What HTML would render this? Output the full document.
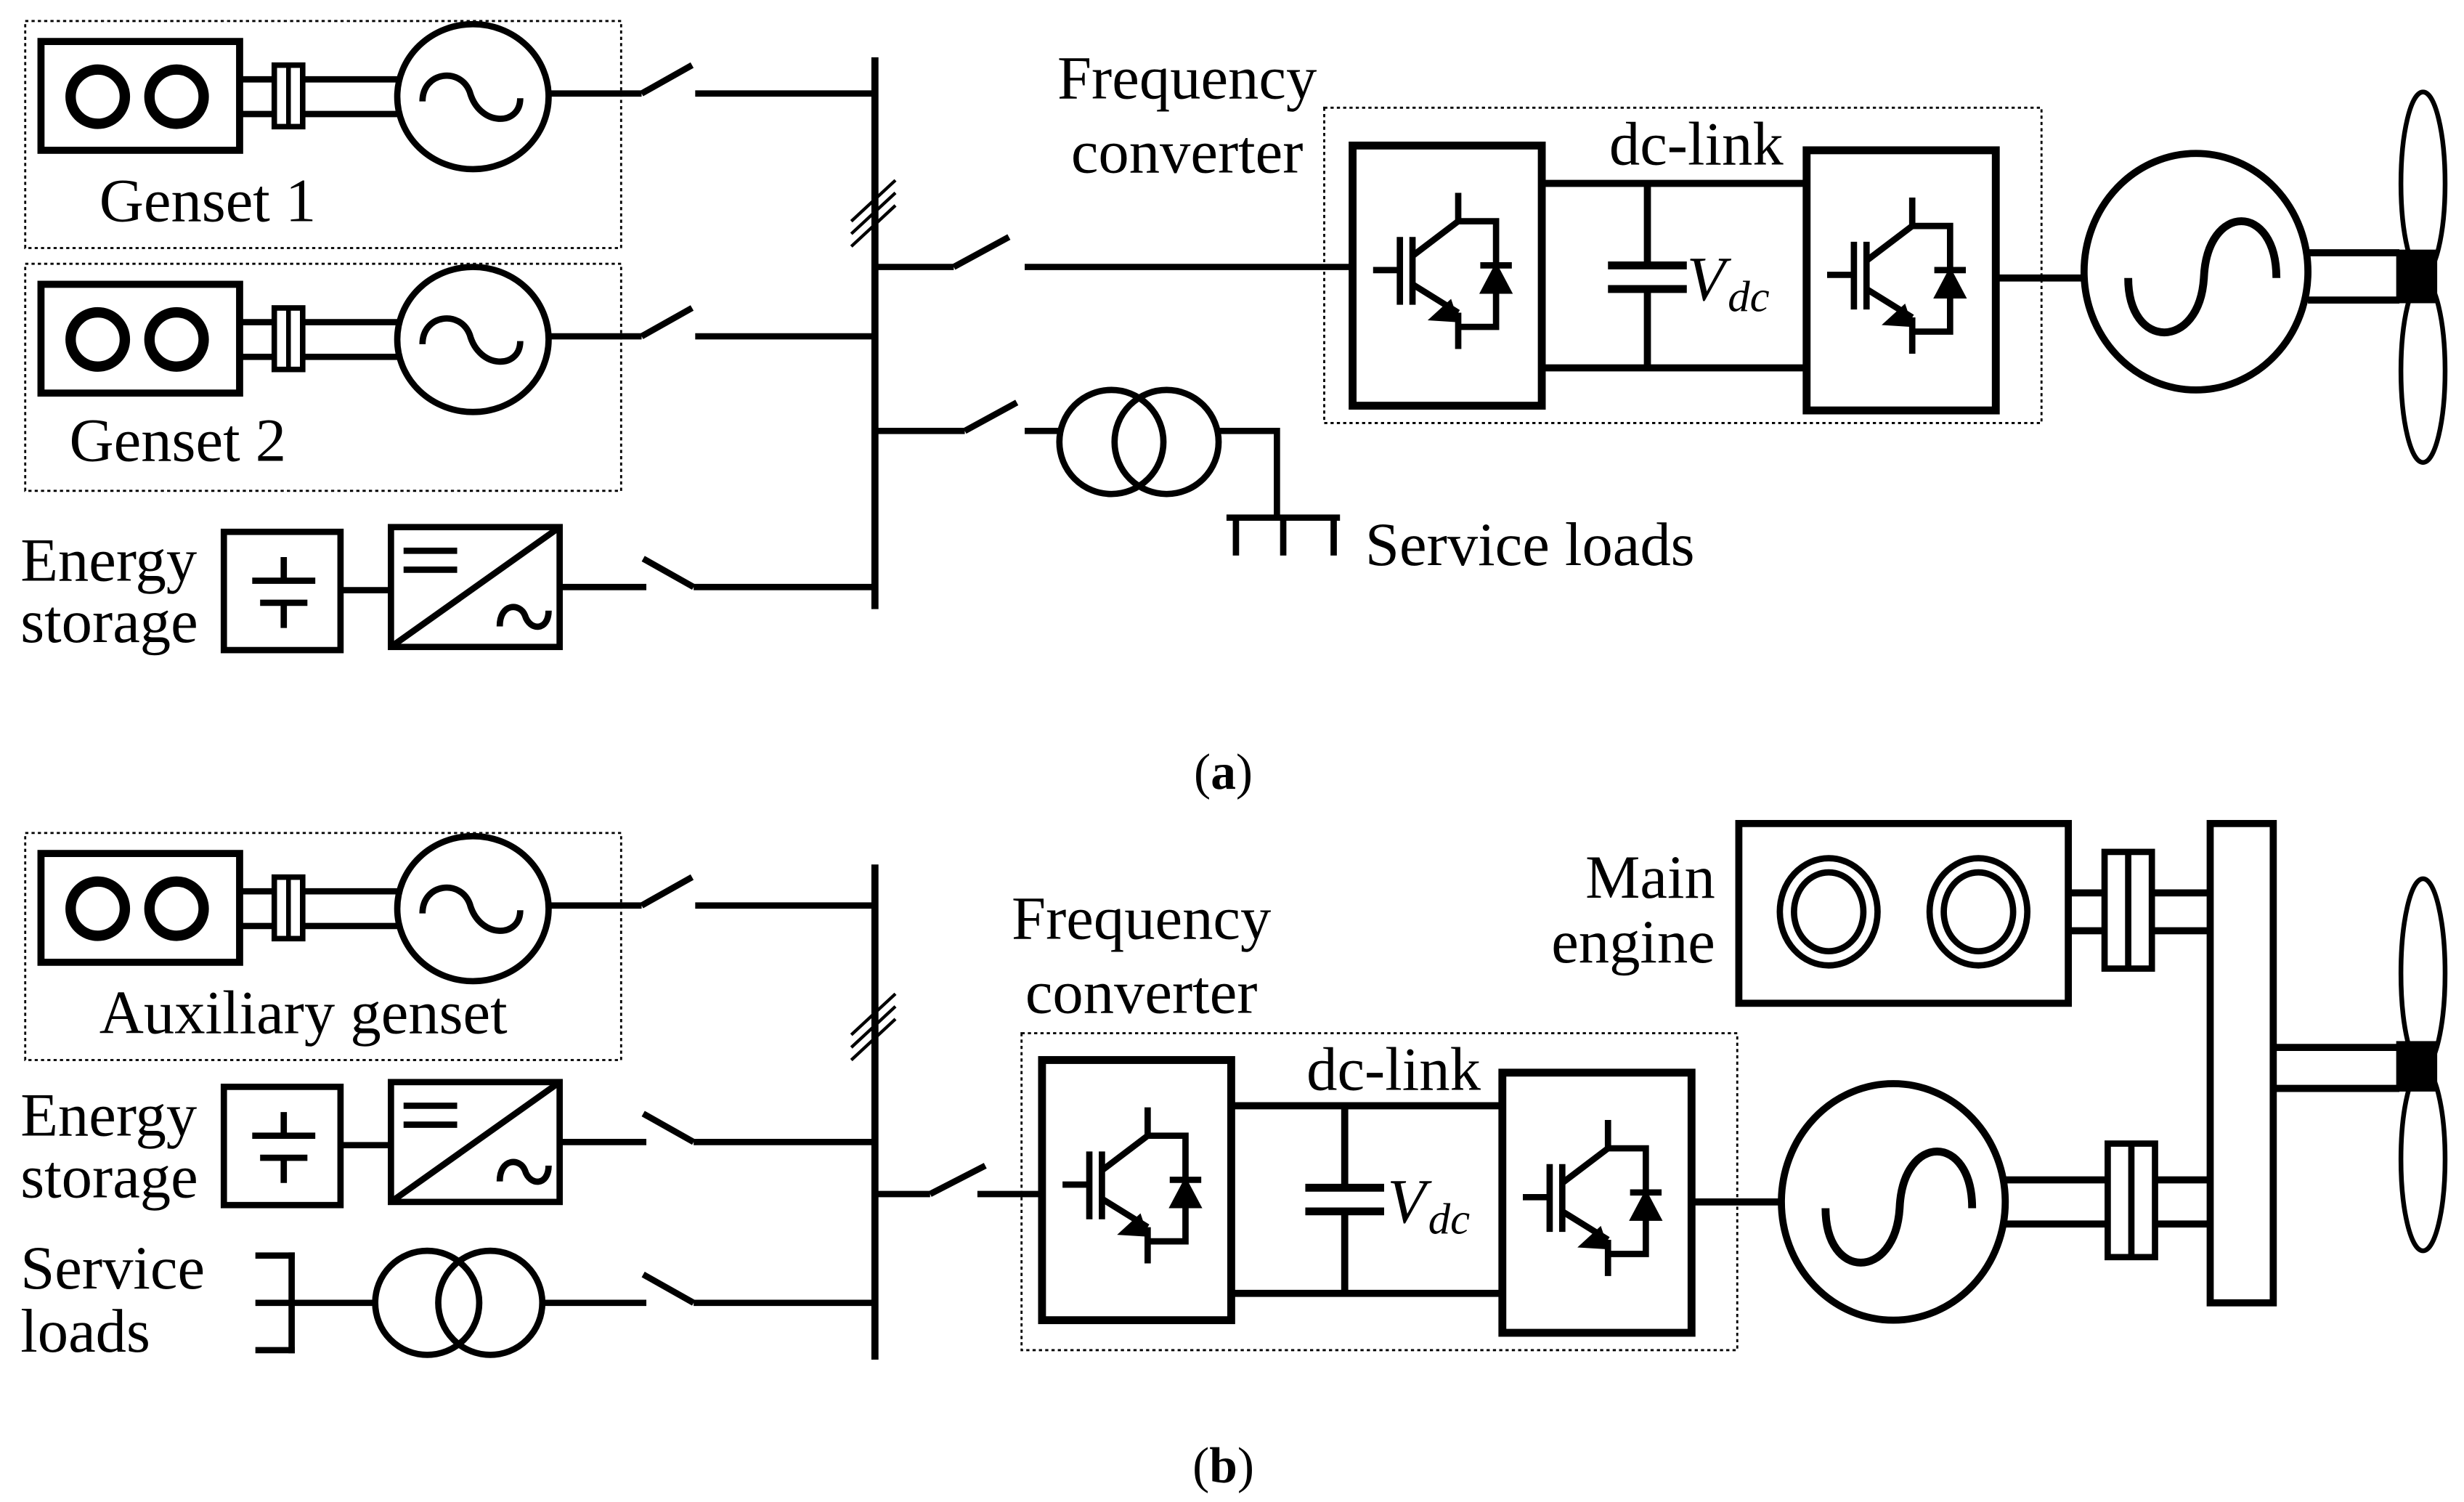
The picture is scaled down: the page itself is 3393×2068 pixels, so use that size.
<!DOCTYPE html>
<html><head><meta charset="utf-8"><style>
html,body{margin:0;padding:0;background:#fff;}
svg{display:block;}
text{font-family:"Liberation Serif","Times New Roman",serif;fill:#000;}
</style></head><body>
<svg width="3393" height="2068" viewBox="0 0 1563 952" xmlns="http://www.w3.org/2000/svg">
<defs>
<g id="igbt" fill="none" stroke="#000" stroke-width="4">
 <line x1="13" y1="79" x2="30" y2="79"/>
 <line x1="30" y1="58" x2="30" y2="101"/>
 <line x1="38" y1="58" x2="38" y2="101"/>
 <line x1="38" y1="70" x2="67" y2="48"/>
 <line x1="67" y1="30" x2="67" y2="48"/>
 <polyline points="67,48 91,48 91,115 67,115"/>
 <line x1="38" y1="88" x2="67" y2="106"/>
 <line x1="67" y1="106" x2="67" y2="129"/>
 <polygon points="62,99 50,110 66,111" fill="#000" stroke-width="2"/>
 <polygon points="82,93 100,93 91,76" fill="#000" stroke-width="2"/>
 <line x1="81" y1="76" x2="101" y2="76"/>
</g>
<g id="engine" fill="none" stroke="#000">
 <rect x="26" y="26" width="126" height="69" stroke-width="4.5"/>
 <circle cx="62" cy="61" r="17" stroke-width="7"/>
 <circle cx="62" cy="61" r="13.5" stroke="#fff" stroke-width="0.8"/>
 <circle cx="112" cy="61" r="17" stroke-width="7"/>
 <circle cx="112" cy="61" r="13.5" stroke="#fff" stroke-width="0.8"/>
 <line x1="152" y1="50" x2="174" y2="50" stroke-width="4"/>
 <line x1="152" y1="72" x2="174" y2="72" stroke-width="4"/>
 <rect x="174" y="41" width="18" height="39" stroke-width="3.5"/>
 <line x1="183" y1="41" x2="183" y2="80" stroke-width="3"/>
 <line x1="192" y1="50" x2="253" y2="50" stroke-width="4"/>
 <line x1="192" y1="72" x2="253" y2="72" stroke-width="4"/>
 <ellipse cx="300" cy="61" rx="48" ry="46" stroke-width="4"/>
 <path d="M268 64 C268 45 292 42 298 58 C304 80 330 80 330 62" stroke-width="4"/>
 <line x1="348" y1="59" x2="407" y2="59" stroke-width="4"/>
 <line x1="407" y1="59" x2="439" y2="41" stroke-width="4"/>
</g>
<g id="es" fill="none" stroke="#000" stroke-width="4">
 <rect x="142" y="337" width="74" height="75"/>
 <line x1="160" y1="368" x2="200" y2="368"/>
 <line x1="165" y1="382" x2="195" y2="382"/>
 <line x1="180" y1="353" x2="180" y2="368"/>
 <line x1="180" y1="382" x2="180" y2="398"/>
 <line x1="216" y1="374" x2="248" y2="374"/>
 <rect x="248" y="334" width="107" height="76"/>
 <line x1="248" y1="410" x2="355" y2="334"/>
 <line x1="256" y1="349" x2="290" y2="349"/>
 <line x1="256" y1="361" x2="290" y2="361"/>
 <path d="M317 397 C317 382 330 382 333 390 C336 400 348 400 348 387"/>
</g>
<g id="conv" fill="none" stroke="#000">
 <rect x="0" y="0" width="120" height="165" stroke-width="5"/>
 <use href="#igbt"/>
</g>
</defs>

<!-- ===== Panel (a) ===== -->
<g fill="none" stroke="#000" stroke-dasharray="2,2" stroke-width="1.3">
 <rect x="16" y="13" width="378" height="144"/>
 <rect x="16" y="167" width="378" height="144"/>
 <rect x="840" y="68" width="455" height="200"/>
</g>
<use href="#engine"/>
<use href="#engine" transform="translate(0,154)"/>
<g stroke="#000" stroke-width="4" fill="none">
 <line x1="441" y1="59" x2="555" y2="59"/>
 <line x1="441" y1="213" x2="555" y2="213"/>
 <line x1="555" y1="36" x2="555" y2="386" stroke-width="4.5"/>
 <line x1="540" y1="140" x2="568" y2="114" stroke-width="2"/>
 <line x1="540" y1="148" x2="568" y2="122" stroke-width="2"/>
 <line x1="540" y1="156" x2="568" y2="130" stroke-width="2"/>
</g>
<text x="63" y="140" font-size="39">Genset 1</text>
<text x="44" y="292" font-size="39">Genset 2</text>
<use href="#es"/>
<g stroke="#000" stroke-width="4" fill="none">
 <line x1="355" y1="372" x2="410" y2="372"/>
 <line x1="408" y1="354" x2="440" y2="372"/>
 <line x1="440" y1="372" x2="555" y2="372"/>
 <line x1="555" y1="169" x2="605" y2="169"/>
 <line x1="605" y1="169" x2="640" y2="150"/>
 <line x1="650" y1="169" x2="858" y2="169"/>
 <line x1="555" y1="273" x2="612" y2="273"/>
 <line x1="612" y1="273" x2="645" y2="255"/>
 <line x1="650" y1="273" x2="672" y2="273"/>
 <circle cx="705" cy="280" r="33"/>
 <circle cx="740" cy="280" r="33"/>
 <polyline points="773,273 810,273 810,328"/>
 <line x1="778" y1="328" x2="850" y2="328"/>
 <line x1="784" y1="328" x2="784" y2="352"/>
 <line x1="814" y1="328" x2="814" y2="352"/>
 <line x1="846" y1="328" x2="846" y2="352"/>
</g>
<text x="13" y="368" font-size="39">Energy</text>
<text x="13" y="407" font-size="39">storage</text>
<text x="866" y="358" font-size="39">Service loads</text>
<text x="753" y="62" font-size="39" text-anchor="middle">Frequency</text>
<text x="753" y="109" font-size="39" text-anchor="middle">converter</text>
<text x="1076" y="104" font-size="39" text-anchor="middle">dc-link</text>
<use href="#conv" transform="translate(858,92)"/>
<use href="#conv" transform="translate(1146,95)"/>
<g stroke="#000" stroke-width="4.5" fill="none">
 <line x1="978" y1="116" x2="1146" y2="116"/>
 <line x1="978" y1="233" x2="1146" y2="233"/>
 <line x1="1045" y1="116" x2="1045" y2="168"/>
 <line x1="1045" y1="183" x2="1045" y2="233"/>
 <line x1="1020" y1="168" x2="1070" y2="168" stroke-width="5"/>
 <line x1="1020" y1="183" x2="1070" y2="183" stroke-width="5"/>
 <line x1="1266" y1="176" x2="1322" y2="176"/>
 <ellipse cx="1393" cy="172" rx="71" ry="75"/>
 <path d="M1350 176 C1350 222 1395 222 1398 176 C1400 128 1444 128 1444 176" stroke-width="5"/>
 <line x1="1464" y1="160" x2="1522" y2="160"/>
 <line x1="1464" y1="190" x2="1522" y2="190"/>
 <ellipse cx="1537" cy="116" rx="14" ry="58" stroke-width="3"/>
 <ellipse cx="1537" cy="235" rx="14" ry="58" stroke-width="3"/>
</g>
<rect x="1520" y="158" width="26" height="34" fill="#000"/>
<text x="1070" y="190" font-size="40" font-style="italic">V</text>
<text x="1096" y="197" font-size="28" font-style="italic">dc</text>
<text x="776" y="500" font-size="32" text-anchor="middle">(<tspan font-weight="bold">a</tspan>)</text>

<!-- ===== Panel (b) ===== -->
<g fill="none" stroke="#000" stroke-dasharray="2,2" stroke-width="1.3">
 <rect x="16" y="528" width="378" height="144"/>
 <rect x="648" y="655" width="454" height="201"/>
</g>
<use href="#engine" transform="translate(0,515)"/>
<text x="63" y="655" font-size="39">Auxiliary genset</text>
<use href="#es" transform="translate(0,352)"/>
<text x="13" y="720" font-size="39">Energy</text>
<text x="13" y="759" font-size="39">storage</text>
<text x="13" y="817" font-size="39">Service</text>
<text x="13" y="857" font-size="39">loads</text>
<g stroke="#000" stroke-width="4" fill="none">
 <line x1="441" y1="574" x2="555" y2="574"/>
 <line x1="555" y1="548" x2="555" y2="862" stroke-width="4.5"/>
 <line x1="540" y1="656" x2="568" y2="630" stroke-width="2"/>
 <line x1="540" y1="664" x2="568" y2="638" stroke-width="2"/>
 <line x1="540" y1="672" x2="568" y2="646" stroke-width="2"/>
 <line x1="355" y1="724" x2="410" y2="724"/>
 <line x1="408" y1="706" x2="440" y2="724"/>
 <line x1="440" y1="724" x2="555" y2="724"/>
 <line x1="162" y1="796" x2="187" y2="796"/>
 <line x1="162" y1="826" x2="187" y2="826"/>
 <line x1="162" y1="856" x2="187" y2="856"/>
 <line x1="185" y1="794" x2="185" y2="858"/>
 <line x1="185" y1="826" x2="238" y2="826"/>
 <circle cx="271" cy="826" r="33"/>
 <circle cx="311" cy="826" r="33"/>
 <line x1="344" y1="826" x2="410" y2="826"/>
 <line x1="408" y1="808" x2="440" y2="826"/>
 <line x1="440" y1="826" x2="555" y2="826"/>
 <line x1="555" y1="757" x2="590" y2="757"/>
 <line x1="590" y1="757" x2="625" y2="739"/>
 <line x1="620" y1="757" x2="660" y2="757"/>
</g>
<text x="724" y="595" font-size="39" text-anchor="middle">Frequency</text>
<text x="724" y="642" font-size="39" text-anchor="middle">converter</text>
<text x="884" y="691" font-size="39" text-anchor="middle">dc-link</text>
<use href="#conv" transform="translate(661,672)"/>
<use href="#conv" transform="translate(953,680)"/>
<g stroke="#000" stroke-width="4.5" fill="none">
 <line x1="781" y1="701" x2="953" y2="701"/>
 <line x1="781" y1="820" x2="953" y2="820"/>
 <line x1="853" y1="701" x2="853" y2="753"/>
 <line x1="853" y1="768" x2="853" y2="820"/>
 <line x1="828" y1="753" x2="878" y2="753" stroke-width="5"/>
 <line x1="828" y1="768" x2="878" y2="768" stroke-width="5"/>
 <line x1="1073" y1="762" x2="1130" y2="762"/>
 <ellipse cx="1201" cy="762" rx="71" ry="75"/>
 <path d="M1158 766 C1158 812 1202 812 1205 766 C1207 718 1251 718 1251 766" stroke-width="5"/>
 <line x1="1272" y1="748" x2="1337" y2="748"/>
 <line x1="1272" y1="776" x2="1337" y2="776"/>
 <rect x="1337" y="725" width="30" height="72" stroke-width="4"/>
 <line x1="1352" y1="725" x2="1352" y2="797" stroke-width="4"/>
 <line x1="1367" y1="748" x2="1402" y2="748"/>
 <line x1="1367" y1="776" x2="1402" y2="776"/>
 <rect x="1402" y="522" width="40" height="304"/>
 <rect x="1103" y="522" width="209" height="114"/>
 <ellipse cx="1160" cy="578" rx="31" ry="34" stroke-width="4"/>
 <ellipse cx="1160" cy="578" rx="22" ry="25" stroke-width="4"/>
 <ellipse cx="1255" cy="578" rx="31" ry="34" stroke-width="4"/>
 <ellipse cx="1255" cy="578" rx="22" ry="25" stroke-width="4"/>
 <line x1="1312" y1="566" x2="1335" y2="566"/>
 <line x1="1312" y1="590" x2="1335" y2="590"/>
 <rect x="1335" y="540" width="30" height="74" stroke-width="4"/>
 <line x1="1350" y1="540" x2="1350" y2="614" stroke-width="4"/>
 <line x1="1365" y1="566" x2="1402" y2="566"/>
 <line x1="1365" y1="590" x2="1402" y2="590"/>
 <line x1="1442" y1="664" x2="1522" y2="664"/>
 <line x1="1442" y1="690" x2="1522" y2="690"/>
 <ellipse cx="1537" cy="617" rx="14" ry="60" stroke-width="3"/>
 <ellipse cx="1537" cy="735" rx="14" ry="58" stroke-width="3"/>
</g>
<rect x="1520" y="660" width="26" height="32" fill="#000"/>
<text x="1088" y="569" font-size="39" text-anchor="end">Main</text>
<text x="1088" y="610" font-size="39" text-anchor="end">engine</text>
<text x="880" y="775" font-size="40" font-style="italic">V</text>
<text x="906" y="782" font-size="28" font-style="italic">dc</text>
<text x="776" y="940" font-size="32" text-anchor="middle">(<tspan font-weight="bold">b</tspan>)</text>
</svg>
</body></html>
